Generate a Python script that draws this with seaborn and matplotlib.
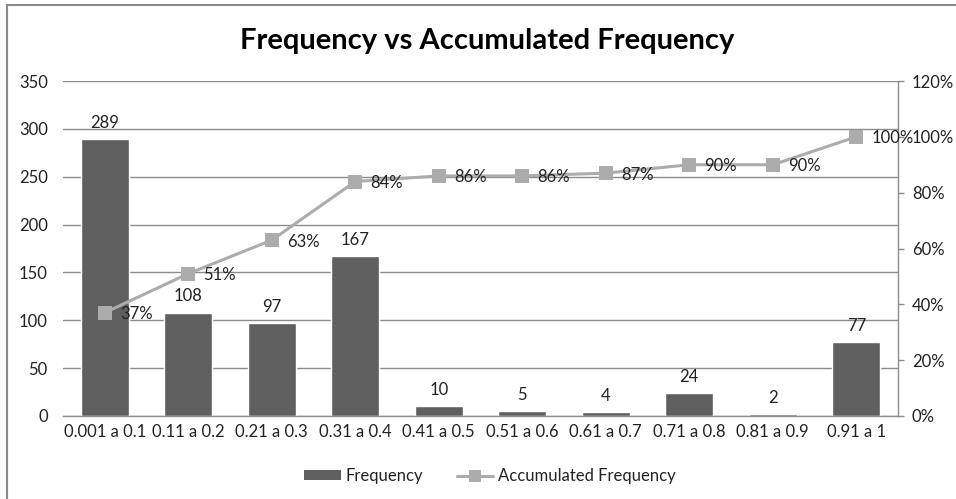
import matplotlib
matplotlib.use("Agg")
import matplotlib.pyplot as plt
from matplotlib.patches import Rectangle
from matplotlib.lines import Line2D
from matplotlib.ticker import FuncFormatter, MultipleLocator
import numpy as np
import pandas as pd
import seaborn as sns

# Frequency table
categories = ["0.001 a 0.1", "0.11 a 0.2", "0.21 a 0.3", "0.31 a 0.4", "0.41 a 0.5",
              "0.51 a 0.6", "0.61 a 0.7", "0.71 a 0.8", "0.81 a 0.9", "0.91 a 1"]
frequency = [289, 108, 97, 167, 10, 5, 4, 24, 2, 77]
accumulated_pct = [37, 51, 63, 84, 86, 86, 87, 90, 90, 100]

sns.set_theme(style="white")
plt.rcParams["font.family"] = ["Lato", "DejaVu Sans"]

BAR = "#5f5f5f"
LINE = "#acacac"
GRID = "#8c8c8c"
TXT = "#222222"
FS = 12

fig = plt.figure(figsize=(9.56, 4.99), dpi=100)
ax = fig.add_axes([63 / 956, 83 / 499, 835 / 956, 335 / 499])

df = pd.DataFrame({"category": categories, "frequency": frequency})
sns.barplot(data=df, x="category", y="frequency", color=BAR, saturation=1,
            width=0.575, ax=ax, order=categories)
ax.set_xlim(-0.5, len(categories) - 0.5)
ax.set_ylim(0, 350)
ax.yaxis.set_major_locator(MultipleLocator(50))
ax.set_xlabel("")
ax.set_ylabel("")
ax.grid(axis="y", color=GRID, linewidth=1.0)
ax.set_axisbelow(True)
for s in ["left", "top", "right"]:
    ax.spines[s].set_visible(False)
ax.spines["bottom"].set_color(GRID)
ax.spines["bottom"].set_linewidth(1.0)
ax.tick_params(axis="y", length=0, pad=11, labelsize=FS, labelcolor=TXT)
ax.tick_params(axis="x", length=0, pad=6, labelsize=FS, labelcolor=TXT)

for i, v in enumerate(frequency):
    ax.annotate(str(v), (i, v), xytext=(0, 6), textcoords="offset points",
                ha="center", va="bottom", fontsize=FS, color=TXT)

ax2 = ax.twinx()
sns.lineplot(x=np.arange(len(categories)), y=accumulated_pct, ax=ax2, color=LINE,
             linewidth=2.2, marker="s", markersize=10, markeredgewidth=0,
             markerfacecolor=LINE, legend=False)
ax2.set_ylim(0, 120)
ax2.yaxis.set_major_locator(MultipleLocator(20))
ax2.yaxis.set_major_formatter(FuncFormatter(lambda v, p: f"{v:.0f}%"))
ax2.set_ylabel("")
for s in ["left", "top", "bottom"]:
    ax2.spines[s].set_visible(False)
ax2.spines["right"].set_color(GRID)
ax2.spines["right"].set_linewidth(1.0)
ax2.tick_params(axis="y", right=True, direction="out", length=4, width=1,
                color=GRID, pad=6, labelsize=FS, labelcolor=TXT)
ax2.grid(False)

for i, v in enumerate(accumulated_pct):
    ax2.annotate(f"{v}%", (i, v), xytext=(11, -1), textcoords="offset points",
                 ha="left", va="center", fontsize=FS, color=TXT)

fig.text(487 / 956, 1 - 41 / 499, "Frequency vs Accumulated Frequency",
         ha="center", va="center", fontsize=21, fontweight="bold", color="black")

handles = [
    Rectangle((0, 0), 1, 1, facecolor=BAR, edgecolor="none"),
    Line2D([], [], color=LINE, linewidth=2.2, marker="s", markersize=8,
           markeredgewidth=0, markerfacecolor=LINE),
]
fig.legend(handles, ["Frequency", "Accumulated Frequency"], loc="center",
           bbox_to_anchor=(490 / 956, 23 / 499), ncol=2, frameon=False,
           fontsize=FS, handlelength=2.2, handleheight=0.55, columnspacing=2.0,
           handletextpad=0.3, labelcolor=TXT)

# chart border
fig.patches.append(Rectangle((7 / 956, -0.1), 1.1, 1 - 5 / 499 + 0.1,
                             transform=fig.transFigure, fill=False,
                             edgecolor="#8a8a8a", linewidth=1.5))

fig.savefig("out.png", dpi=100)
